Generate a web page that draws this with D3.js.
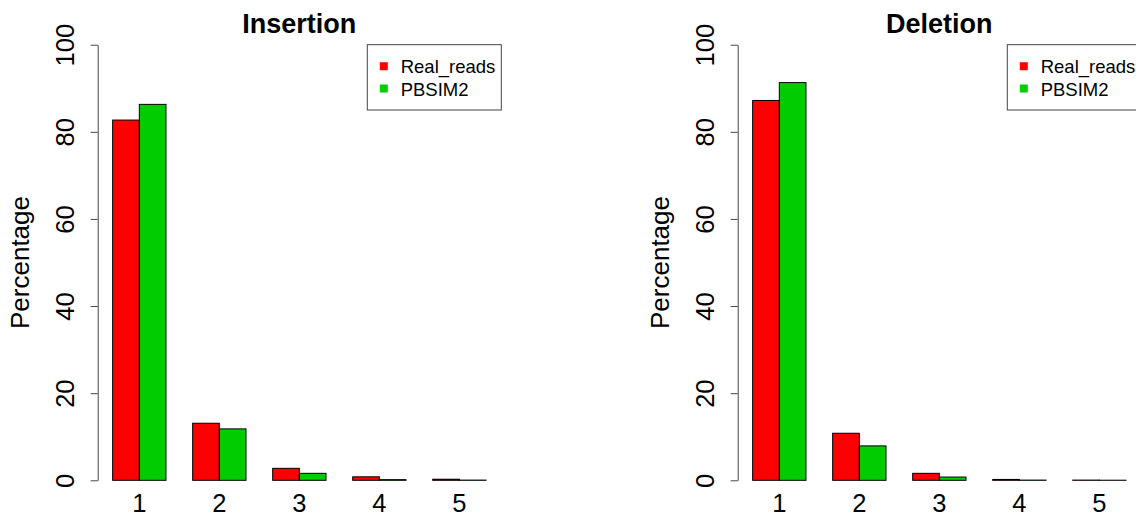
<!DOCTYPE html>
<html>
<head>
<meta charset="utf-8">
<script src="https://cdn.jsdelivr.net/npm/d3@7"></script>
<style>
  body { margin: 0; background: #fff; }
  svg { display: block; font-family: "Liberation Sans", Arial, Helvetica, sans-serif; }
</style>
</head>
<body>
<div class="chart"></div>
<script>
const categories = ["1", "2", "3", "4", "5"];
const seriesNames = ["Real_reads", "PBSIM2"];
const insertionReal = [82.7, 13.1, 2.75, 0.8, 0.25];
const insertionSim = [86.3, 11.8, 1.6, 0.15, 0.05];
const deletionReal = [87.2, 10.8, 1.6, 0.2, 0.05];
const deletionSim = [91.3, 7.9, 0.75, 0.05, 0.02];
const yTicks = [0, 20, 40, 60, 80, 100];

(function() {
var svg = d3.select(".chart").append("svg")
    .attr("width", 1136)
    .attr("height", 513);

const color = d3.scaleOrdinal().domain(seriesNames).range(["#ff0000", "#00cd00"]);

// R barplot units: 15 units wide, plot region padded by 4%
var u = d3.scaleLinear().domain([0.44, 15.56]).range([97.7, 501]);
var y = d3.scaleLinear().domain([0, 100]).range([480.3, 44.7]);

var x0 = d3.scaleBand().domain(categories).range([u(1), u(15)]).paddingInner(1 / 3);
var x1 = d3.scaleBand().domain(seriesNames).range([0, x0.bandwidth()]);

function panel(offset, title, real, sim) {
  var g = svg.append("g").attr("transform", "translate(" + offset + ",0)");

  var rows = categories.map((c, i) => ({ key: c, values: [
    { name: seriesNames[0], value: real[i] },
    { name: seriesNames[1], value: sim[i] }
  ] }));

  g.append("g").selectAll("g")
    .data(rows)
    .enter().append("g")
    .attr("transform", (d) => "translate(" + x0(d.key) + ",0)")
    .selectAll("rect")
    .data((d) => d.values)
    .enter().append("rect")
    .attr("x", (d) => x1(d.name))
    .attr("y", (d) => y(d.value))
    .attr("width", x1.bandwidth())
    .attr("height", (d) => y(0) - y(d.value))
    .style("fill", (d) => color(d.name))
    .style("stroke", "#000")
    .style("stroke-width", 1);

  // y axis
  var yAxis = g.append("g")
    .attr("transform", "translate(" + u(0.44) + ",0)")
    .call(d3.axisLeft(y).tickValues(yTicks).tickSize(7).tickSizeOuter(0));
  yAxis.select(".domain").attr("stroke", "#444");
  yAxis.selectAll(".tick line").attr("stroke", "#444");
  yAxis.selectAll(".tick text")
    .attr("transform", "rotate(-90)")
    .attr("x", 0)
    .attr("y", -23.7)
    .attr("dy", 0)
    .attr("text-anchor", "middle")
    .attr("fill", "#000")
    .style("font-size", "25.5px");

  // category labels
  g.selectAll(".xlab")
    .data(categories)
    .enter().append("text")
    .attr("class", "xlab")
    .attr("x", (d) => x0(d) + x0.bandwidth() / 2)
    .attr("y", 511.5)
    .attr("text-anchor", "middle")
    .style("font-size", "25.5px")
    .text((d) => d);

  g.append("text")
    .attr("transform", "translate(28.6," + (y(0) + y(100)) / 2 + ") rotate(-90)")
    .attr("text-anchor", "middle")
    .style("font-size", "26px")
    .text("Percentage");

  g.append("text")
    .attr("x", (u(0.44) + u(15.56)) / 2)
    .attr("y", 33)
    .attr("text-anchor", "middle")
    .style("font-size", "27px")
    .style("font-weight", "bold")
    .text(title);

  // legend, top right of plot region
  var lg = g.append("g").attr("transform", "translate(367.3," + y(100) + ")");
  lg.append("rect")
    .attr("width", 134)
    .attr("height", 65.3)
    .style("fill", "#fff")
    .style("stroke", "#444");
  var item = lg.selectAll(".item")
    .data(seriesNames)
    .enter().append("g")
    .attr("class", "item")
    .attr("transform", (d, i) => "translate(0," + (21.5 + i * 22.3) + ")");
  item.append("rect")
    .attr("x", 12.5)
    .attr("y", -4)
    .attr("width", 8)
    .attr("height", 8)
    .style("fill", (d) => color(d));
  item.append("text")
    .attr("x", 33.4)
    .attr("y", 7)
    .style("font-size", "18.5px")
    .text((d) => d);
}

panel(0, "Insertion", insertionReal, insertionSim);
panel(640, "Deletion", deletionReal, deletionSim);
}())
</script>
</body>
</html>
